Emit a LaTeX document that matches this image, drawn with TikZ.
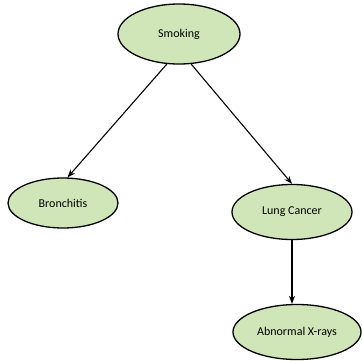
\documentclass[tikz,border=0pt]{standalone}
\usepackage{fontspec}
\setmainfont{Carlito}
\usetikzlibrary{shapes.geometric,arrows.meta}
\definecolor{nodegreen}{RGB}{208,230,184}
\begin{document}
\begin{tikzpicture}[x=1pt,y=1pt,
  evt/.style={ellipse,draw=black,line width=1.3pt,fill=nodegreen,inner sep=0pt,font=\fontsize{12}{14}\selectfont},
  conn/.style={draw=black,line width=1.1pt,-{Stealth[length=8pt,width=6pt]}}]
\useasboundingbox (0,0) rectangle (362,360);
\node[evt,minimum width=122pt,minimum height=60pt] (smoke) at (179,326) {Smoking};
\node[evt,minimum width=110pt,minimum height=50pt] (bron) at (63,157) {Bronchitis};
\node[evt,minimum width=120pt,minimum height=55pt] (lung) at (292,148) {Lung Cancer};
\node[evt,minimum width=128pt,minimum height=55pt] (xray) at (297,28) {Abnormal X-rays};
\draw[conn] (smoke.248) -- (bron.80);
\draw[conn] (smoke.292) -- (lung.north);
\draw[conn] (lung.south) -- (lung.south |- xray.north);
\end{tikzpicture}
\end{document}
